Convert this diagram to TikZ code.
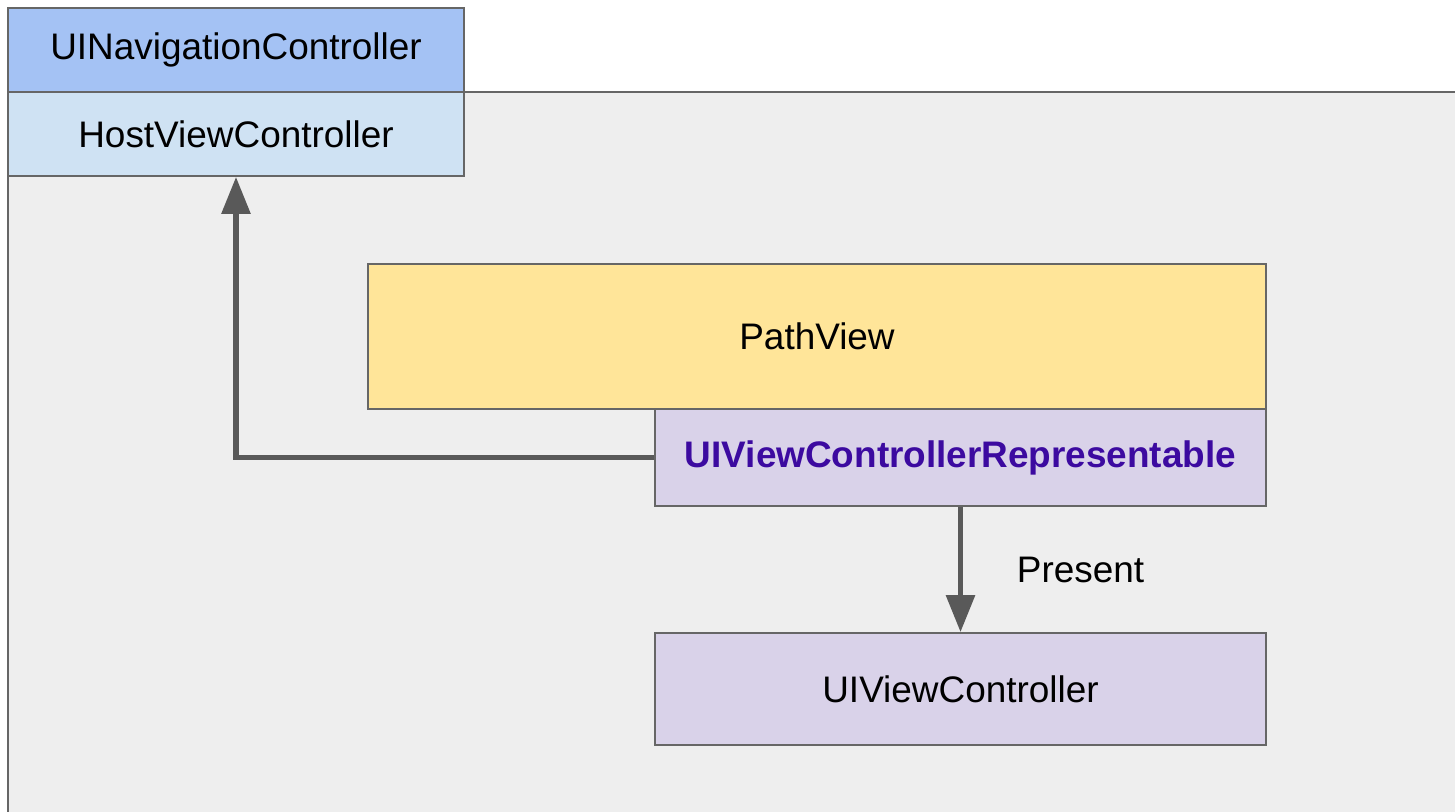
\documentclass[tikz,border=0pt]{standalone}
\usepackage{fontspec}
\setmainfont{Liberation Sans}
\usetikzlibrary{arrows.meta}
\definecolor{navblue}{HTML}{A4C2F4}
\definecolor{hostblue}{HTML}{CFE2F3}
\definecolor{pathyellow}{HTML}{FFE599}
\definecolor{lilac}{HTML}{D9D2E9}
\definecolor{backgray}{HTML}{EEEEEE}
\definecolor{edgegray}{HTML}{666666}
\definecolor{arrowgray}{HTML}{595959}
\definecolor{reptext}{HTML}{3C0AA0}
\tikzstyle{ctrl} = [draw=edgegray, line width=0.5pt, shape=rectangle, inner sep=0pt, font=\fontsize{10.5}{12}\selectfont]
\tikzstyle{conn} = [style={-{Triangle[length=10.5pt,width=8pt]},color=arrowgray,line width=1.5pt}]

\begin{document}
\begin{tikzpicture}[x=0.01cm,y=-0.01cm]
    \useasboundingbox (0,0) rectangle (1455,811);
    \clip (0,0) rectangle (1455,811);
    \fill[white] (0,0) rectangle (1455,811);
    \filldraw[fill=backgray, draw=edgegray, line width=0.5pt] (8,92) rectangle (1480,840);
    \begin{scope}
      \node[ctrl, fill=navblue, minimum width=4.56cm, minimum height=0.84cm] (nav) at (236,50) {UINavigationController};
      \node[ctrl, fill=hostblue, minimum width=4.56cm, minimum height=0.84cm] (host) at (236,134) {HostViewController};
      \node[ctrl, fill=pathyellow, minimum width=8.98cm, minimum height=1.45cm] (path) at (817,336.5) {PathView};
      \node[ctrl, fill=lilac, minimum width=6.11cm, minimum height=0.97cm, text=reptext, font=\fontsize{10.5}{12}\selectfont\bfseries] (rep) at (960.5,457.5) {UIViewControllerRepresentable};
      \node[ctrl, fill=lilac, minimum width=6.11cm, minimum height=1.12cm] (uivc) at (960.5,689) {UIViewController};
      \draw[conn] (rep.west) -| (host.south);
      \draw[conn] (rep.south) -- node[right=0.42cm, black, font=\fontsize{10.5}{12}\selectfont] (present) {Present} (uivc.north);
    \end{scope}
  \end{tikzpicture}
\end{document}
